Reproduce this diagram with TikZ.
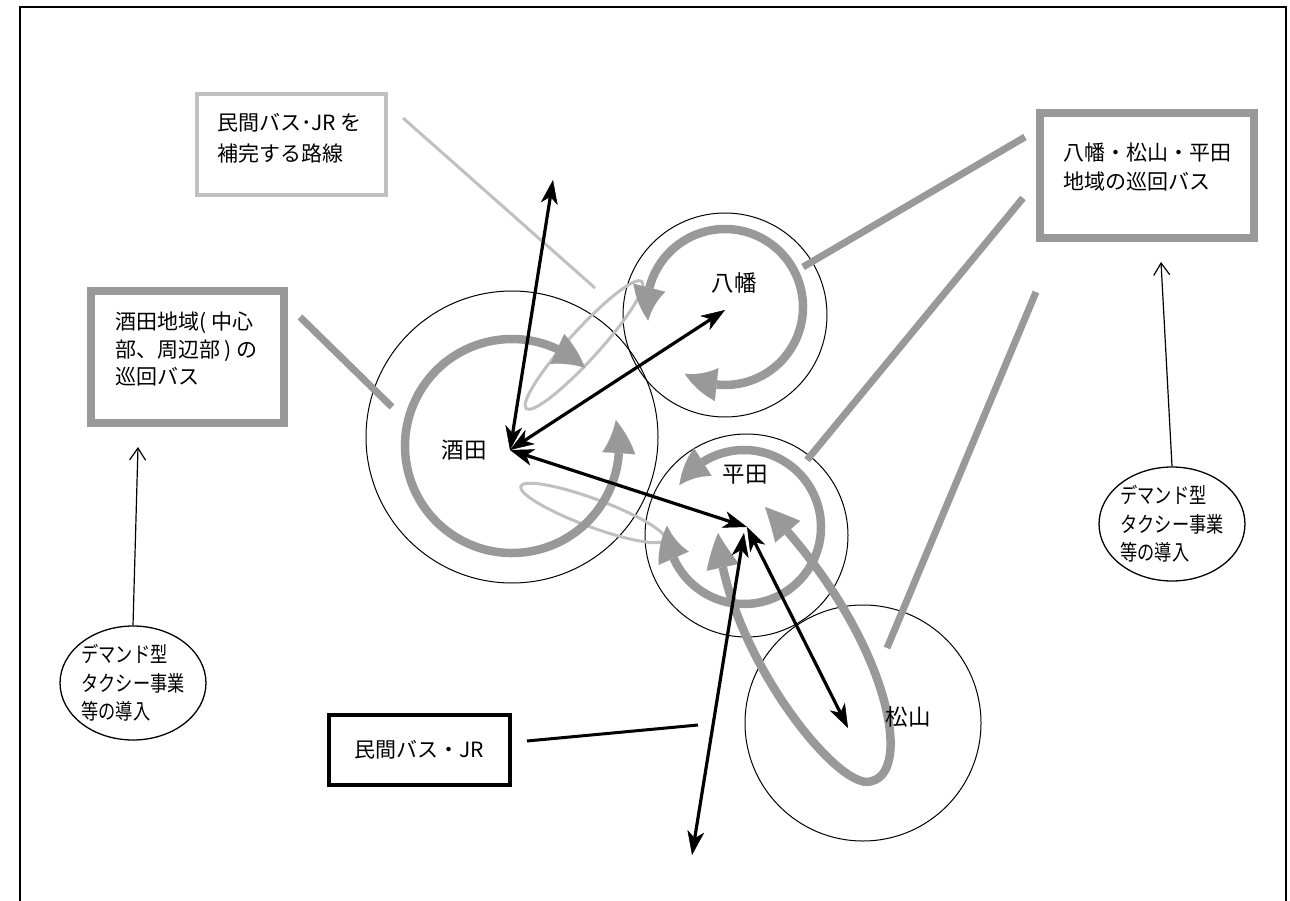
\documentclass[tikz,border=0pt]{standalone}
\usepackage{fontspec}
\newfontfamily\jp{Noto Sans CJK JP}
\newfontfamily\jpc[FakeStretch=0.8]{Noto Sans CJK JP}
\usetikzlibrary{arrows.meta,bending,shapes.geometric}
\definecolor{gmid}{RGB}{153,153,153}
\definecolor{glight}{RGB}{192,192,192}
\tikzset{
 gtri/.tip={Triangle[length=34pt,width=33pt,line width=0.1pt,bend]},
 bst/.tip={Stealth[length=24pt,width=17pt,inset=7pt,line width=0.5pt]},
 obarb/.tip={Straight Barb[length=12pt,width=16pt]},
}
\begin{document}
\begin{tikzpicture}[x=1pt,y=1pt,
 frame/.style={line width=1.5pt},
 ring/.style={circle,draw,line width=1pt,inner sep=0pt},
 lab/.style={font=\jp\fontsize{22.5}{24}\selectfont,inner sep=0pt},
 boxlight/.style={draw=glight,line width=3.5pt,inner sep=0pt},
 boxgray/.style={draw=gmid,line width=7.5pt,inner sep=0pt},
 boxblack/.style={draw=black,line width=4pt,inner sep=0pt,font=\jp\fontsize{21}{30}\selectfont},
 boxtext/.style={font=\jp\fontsize{21}{29}\selectfont,align=left,inner sep=0pt,anchor=west},
 demand/.style={ellipse,draw,line width=1.3pt,inner sep=0pt,align=left,font=\jpc\fontsize{21.5}{28.5}\selectfont},
 gline/.style={draw=gmid,line width=7pt},
 lline/.style={draw=glight,line width=3pt},
 kline/.style={draw=black,line width=3pt},
 garc/.style={draw=gmid,line width=8.5pt,gtri-gtri},
 lell/.style={draw=glight,line width=3pt},
 barrow/.style={draw=black,line width=3.2pt,bst-bst},
 openarrow/.style={draw=black,line width=1.2pt,-obarb},
]
\useasboundingbox (0,0) rectangle (1290,-901);
% frame
\draw[frame] (20,-901) -- (20,-7) -- (1286,-7) -- (1286,-901);

% area circles
\node[ring,minimum size=292pt] (csakata) at (512,-437) {};
\node[ring,minimum size=204pt] (cyawata) at (725,-315) {};
\node[ring,minimum size=203pt] (chirata) at (746.5,-535.5) {};
\node[ring,minimum size=236pt] (cmatsu) at (863,-723) {};

% hubs and free ends
\coordinate (hs) at (510,-450);
\coordinate (hy) at (725,-310);
\coordinate (hh) at (747,-527);
\coordinate (hm) at (848,-728);
\coordinate (hh2) at (744,-533);
\coordinate (top) at (553,-180);
\coordinate (bot) at (692,-855);

% boxes
\node[boxlight,minimum width=189pt,minimum height=101pt] (b1) at (291.5,-144.5) {};
\node[boxtext,font=\jp\fontsize{21}{31}\selectfont] (t1) at (217,-138.5) {民間バス･JR を\\補完する路線};
\node[boxgray,minimum width=214pt,minimum height=125pt] (b2) at (1147,-175.5) {};
\node[boxtext] (t2) at (1063,-167.5) {八幡・松山・平田\\地域の巡回バス};
\node[boxgray,minimum width=193pt,minimum height=132pt] (b3) at (187.5,-357) {};
\node[boxtext,font=\jp\fontsize{21}{27.5}\selectfont] (t3) at (115,-349.5) {酒田地域( 中心\\部、周辺部 ) の\\巡回バス};
\node[boxblack,minimum width=181pt,minimum height=70pt] (b4) at (419.5,-750) {民間バス・JR};

% demand ellipses
\node[demand,minimum width=140pt,minimum height=114pt] (d1) at (133,-683) {デマンド型\\タクシー事業\\等の導入};
\node[demand,minimum width=138pt,minimum height=114pt] (d2) at (1172,-524) {デマンド型\\タクシー事業\\等の導入};

% connector end points
\coordinate (g3a) at (300,-317); \coordinate (g3b) at (392,-407);
\coordinate (g2a) at (1025,-137); \coordinate (g2b) at (803,-267);
\coordinate (g2c) at (1023,-198); \coordinate (g2d) at (807,-460);
\coordinate (g2e) at (1036,-292); \coordinate (g2f) at (887,-648);
\coordinate (l1a) at (403,-118); \coordinate (l1b) at (595,-288);
\coordinate (k4a) at (527,-741); \coordinate (k4b) at (698,-725);
\coordinate (o1t) at (138,-447); \coordinate (o2t) at (1161,-262);

% gray and light connectors
\draw[gline] (g3a) -- (g3b);
\draw[gline] (g2a) -- (g2b);
\draw[gline] (g2c) -- (g2d);
\draw[gline] (g2e) -- (g2f);
\draw[lline] (l1a) -- (l1b);
\draw[kline] (k4a) -- (k4b);

% light gray ellipses
\draw[lell,rotate around={47.7:(584,-345)}] (584,-345) ellipse [x radius=86, y radius=15];
\draw[lell,rotate around={-20.3:(593,-513)}] (593,-513) ellipse [x radius=77, y radius=14];

% circulating bus arcs
\coordinate (as) at (512,-446);
\coordinate (ay) at (725,-307);
\coordinate (ah) at (744,-527);
\draw[garc] (as) ++(14:107) arc[start angle=14, end angle=-313, radius=107];
\draw[garc] (ay) ++(190:78) arc[start angle=190, end angle=-121, radius=78];
\draw[garc] (ah) ++(147:77) arc[start angle=147, end angle=-181, radius=77];
\coordinate (lp1) at (718,-533); \coordinate (lp2) at (872,-781); \coordinate (lp3) at (765,-507);
\draw[garc] (lp1) .. controls (725,-650) and (840,-795) .. (lp2) .. controls (915,-770) and (885,-630) .. (lp3);

% black arrows
\draw[barrow] (top) -- (hs);
\draw[barrow] (hs) -- (hy);
\draw[barrow] (hs) -- (hh);
\draw[barrow] (hh) -- (hm);
\draw[barrow] (bot) -- (hh2);

% open arrows from demand ellipses
\draw[openarrow] (d1.north) -- (o1t);
\draw[openarrow] (d2.north) -- (o2t);

% labels
\node[lab] (lsakata) at (464,-450) {酒田};
\node[lab] (lyawata) at (734,-283) {八幡};
\node[lab] (lhirata) at (745,-475) {平田};
\node[lab] (lmatsu) at (908,-717) {松山};
\end{tikzpicture}
\end{document}
